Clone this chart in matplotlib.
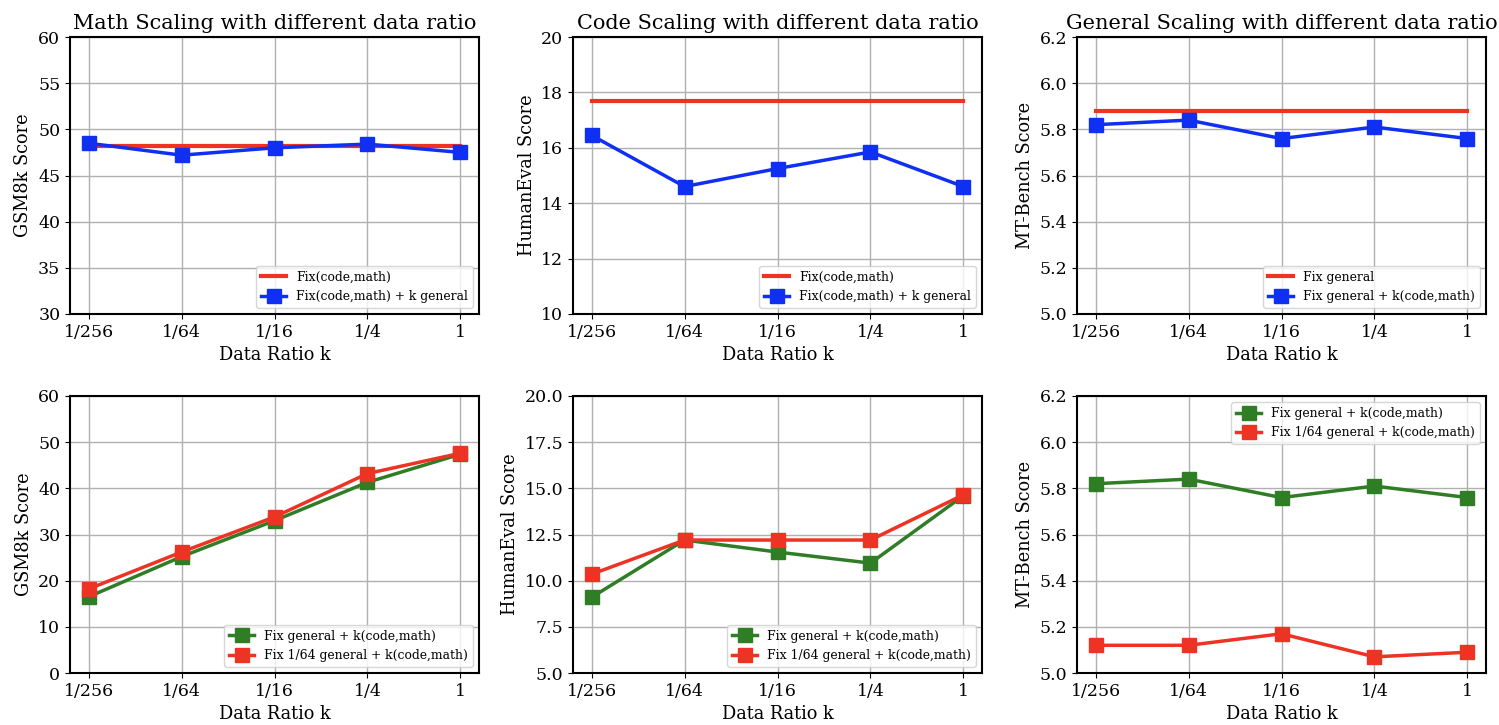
import numpy as np
import matplotlib
matplotlib.use('Agg')
import matplotlib.pyplot as plt

plt.rcParams['font.family'] = 'DejaVu Serif'

## x axis: data ratio k
ratios = ['1/256', '1/64', '1/16', '1/4', '1']

## top row: single-domain scaling
math_fix = [48.2, 48.2, 48.2, 48.2, 48.2]
math_k_general = [48.5, 47.2, 48.0, 48.4, 47.5]
code_fix = [17.7, 17.7, 17.7, 17.7, 17.7]
code_k_general = [16.45, 14.6, 15.25, 15.85, 14.6]
general_fix = [5.88, 5.88, 5.88, 5.88, 5.88]
general_k_codemath = [5.82, 5.84, 5.76, 5.81, 5.76]

## bottom row: fix general vs fix 1/64 general
gsm_fix_general = [16.5, 25.2, 33.0, 41.3, 47.4]
gsm_fix_64 = [18.2, 26.2, 33.8, 43.2, 47.6]
he_fix_general = [9.1, 12.2, 11.55, 10.95, 14.6]
he_fix_64 = [10.35, 12.2, 12.2, 12.2, 14.65]
mt_fix_general = [5.82, 5.84, 5.76, 5.81, 5.76]
mt_fix_64 = [5.12, 5.12, 5.17, 5.07, 5.09]

RED = '#ec3324'
BLUE = '#0f2ff2'
GREEN = '#2f7d25'

fig = plt.figure(figsize=(14.99, 7.25), dpi=100)
lefts = [70 / 1499, 573 / 1499, 1077 / 1499]
w = 409 / 1499
h = 277 / 725
top_bottom = 1 - 314 / 725
bot_bottom = 1 - 673 / 725

x = np.arange(len(ratios))


def style(ax, ylim, yticks, ylabel, title=None):
    ax.set_xticks(x)
    ax.set_xticklabels(ratios)
    ax.set_ylim(*ylim)
    ax.set_yticks(yticks)
    ax.set_xlim(-0.2, 4.2)
    ax.set_xlabel('Data Ratio k', fontsize=12.8)
    ax.set_ylabel(ylabel, fontsize=12.8)
    ax.tick_params(labelsize=12.5)
    ax.grid(True, color='#b0b0b0', linewidth=1)
    ax.set_axisbelow(True)
    for s in ax.spines.values():
        s.set_linewidth(1.5)
    if title:
        ax.set_title(title, fontsize=15)


top_specs = [
    (math_fix, math_k_general, 'Fix(code,math)', 'Fix(code,math) + k general',
     (30, 60), np.arange(30, 61, 5), 'GSM8k Score', 'Math Scaling with different data ratio', None),
    (code_fix, code_k_general, 'Fix(code,math)', 'Fix(code,math) + k general',
     (10, 20), np.arange(10, 21, 2), 'HumanEval Score', 'Code Scaling with different data ratio', None),
    (general_fix, general_k_codemath, 'Fix general', 'Fix general + k(code,math)',
     (5.0, 6.2), np.round(np.arange(5.0, 6.21, 0.2), 1), 'MT-Bench Score',
     'General Scaling with different data ratio', '%.1f'),
]
for left, (fix, var, l1, l2, ylim, yt, yl, title, fmt) in zip(lefts, top_specs):
    ax = fig.add_axes([left, top_bottom, w, h])
    ax.plot(x, fix, color=RED, linewidth=3, label=l1)
    ax.plot(x, var, color=BLUE, linewidth=2.5, marker='s', markersize=10, label=l2)
    style(ax, ylim, yt, yl, title)
    if fmt:
        ax.yaxis.set_major_formatter(matplotlib.ticker.FormatStrFormatter(fmt))
    ax.legend(loc='lower right', fontsize=8.9)

bot_specs = [
    (gsm_fix_general, gsm_fix_64, (0, 60), np.arange(0, 61, 10), 'GSM8k Score', None, 'lower right'),
    (he_fix_general, he_fix_64, (5, 20), np.arange(5, 20.1, 2.5), 'HumanEval Score', '%.1f', 'lower right'),
    (mt_fix_general, mt_fix_64, (5.0, 6.2), np.round(np.arange(5.0, 6.21, 0.2), 1), 'MT-Bench Score', '%.1f', 'upper right'),
]
for left, (g, r, ylim, yt, yl, fmt, loc) in zip(lefts, bot_specs):
    ax = fig.add_axes([left, bot_bottom, w, h])
    ax.plot(x, g, color=GREEN, linewidth=2.5, marker='s', markersize=10,
            label='Fix general + k(code,math)')
    ax.plot(x, r, color=RED, linewidth=2.5, marker='s', markersize=10,
            label='Fix 1/64 general + k(code,math)')
    style(ax, ylim, yt, yl)
    if fmt:
        ax.yaxis.set_major_formatter(matplotlib.ticker.FormatStrFormatter(fmt))
    ax.legend(loc=loc, fontsize=8.9)

fig.savefig('out.png', dpi=100)
